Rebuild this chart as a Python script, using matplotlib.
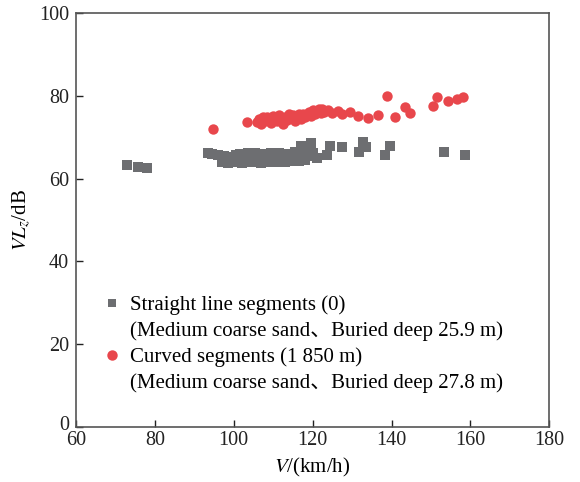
import matplotlib
matplotlib.use('Agg')
from matplotlib import pyplot as plt
from matplotlib.lines import Line2D
from matplotlib.transforms import ScaledTranslation

plt.rcParams['font.family'] = ['Liberation Serif', 'Noto Sans CJK SC']
plt.rcParams['mathtext.fontset'] = 'stix'

# straight line segments (grey squares)
straight_v = [72.9, 75.7, 78.0,
              93.5, 94.5, 96.0, 97.0, 97.5, 98.0, 98.5, 99.0, 99.5, 100.0,
              100.5, 101.0, 101.5, 102.0, 102.5, 103.0, 103.5, 104.0, 104.5,
              105.0, 105.5, 106.0, 106.5, 107.0, 107.5, 108.0, 108.5, 109.0,
              109.5, 110.0, 110.5, 111.0, 111.5, 112.0, 112.5, 113.0, 113.5,
              114.0, 114.5, 115.0, 115.5, 116.0, 116.5, 117.0, 117.5, 118.0,
              118.5, 119.0, 119.5, 120.0, 121.0, 123.7, 124.5, 127.4, 131.8,
              132.8, 133.6, 138.4, 139.7, 153.4, 158.7]
straight_vl = [63.2, 62.9, 62.5,
               66.2, 66.0, 65.8, 64.0, 65.5, 64.3, 63.8, 65.2, 64.6, 63.9,
               65.8, 64.2, 66.0, 63.7, 65.0, 64.5, 66.1, 63.9, 65.4,
               64.8, 66.3, 64.1, 65.6, 63.8, 66.0, 64.6, 65.2, 63.9,
               66.2, 64.4, 65.7, 64.0, 66.1, 64.7, 65.4, 63.9, 66.0,
               64.5, 65.8, 64.2, 66.4, 65.0, 64.3, 68.0, 65.9, 64.6,
               66.5, 65.4, 68.5, 66.2, 65.0, 65.8, 67.9, 67.7, 66.5,
               68.8, 67.7, 65.8, 67.9, 66.5, 65.8]

# curved segments (red circles)
curved_v = [94.8, 103.4, 106.0, 106.5, 107.0, 107.5, 108.0, 108.5, 109.0,
            109.5, 110.0, 110.5, 111.0, 111.5, 112.0, 112.5, 113.0, 113.5,
            114.0, 114.5, 115.0, 115.5, 116.0, 116.5, 117.0, 117.5, 118.0,
            118.5, 119.0, 119.5, 120.0, 120.5, 121.0, 121.5, 122.0, 122.5,
            123.0, 124.0, 125.0, 126.5, 127.5, 129.5, 131.6, 134.0, 136.6,
            138.9, 141.0, 143.5, 144.8, 150.6, 151.6, 154.4, 156.7, 158.2]
curved_vl = [72.1, 73.7, 73.6, 74.5, 73.2, 74.8, 73.9, 75.0, 74.2,
             73.5, 75.2, 74.4, 73.8, 75.4, 74.7, 73.3, 75.0, 74.2,
             75.5, 74.6, 75.3, 73.9, 75.0, 75.6, 74.5, 75.7, 74.9,
             75.6, 76.1, 75.2, 76.5, 75.6, 76.2, 76.8, 75.9, 76.7,
             76.2, 76.5, 75.8, 76.3, 75.7, 76.0, 75.1, 74.6, 75.3,
             80.0, 74.9, 77.2, 75.8, 77.5, 79.6, 78.8, 79.3, 79.8]

labels = ['Straight line segments (0)',
          '(Medium coarse sand\u3001Buried deep 25.9 m)',
          'Curved segments (1 850 m)',
          '(Medium coarse sand\u3001Buried deep 27.8 m)']

grey = '#6d6e71'
red = '#e8474c'

fig = plt.figure(figsize=(5.8, 4.82), dpi=100)
ax = fig.add_axes([0.131, 0.114, 0.816, 0.859])

ax.scatter(straight_v, straight_vl, marker='s', s=50, color=grey,
           linewidths=0, zorder=3)
ax.scatter(curved_v, curved_vl, marker='o', s=56, color=red,
           linewidths=0, zorder=3)

ax.set_xlim(60, 180)
ax.set_ylim(0, 100)
ax.set_xticks(range(60, 181, 20))
ax.set_yticks(range(0, 101, 20))
ax.tick_params(direction='in', length=5, width=1, labelsize=14.5,
               colors='#222222')
ax.tick_params(axis='x', pad=2.5)
ax.tick_params(axis='y', pad=5)
# nudge the "0" label up a little so it clears the "60"
lab0 = ax.get_yticklabels()[0]
lab0.set_transform(lab0.get_transform() +
                   ScaledTranslation(0, 4 / 100, fig.dpi_scale_trans))
for sp in ax.spines.values():
    sp.set_color('#555555')
    sp.set_linewidth(1.2)

ax.set_xlabel('$V$/(km/h)', fontsize=15, labelpad=5)
ax.set_ylabel('$VL_z$/dB', fontsize=15, labelpad=4)

blank = Line2D([], [], linestyle='none')
sq = Line2D([], [], linestyle='none', marker='s', markersize=6,
            color=grey, markeredgewidth=0)
ci = Line2D([], [], linestyle='none', marker='o', markersize=7.5,
            color=red, markeredgewidth=0)

ax.legend([sq, blank, ci, blank], labels, loc='upper left',
          bbox_to_anchor=(0.059, 0.318), frameon=False, fontsize=15,
          handlelength=0.8, handletextpad=0.45, labelspacing=0.3,
          borderaxespad=0, borderpad=0)

fig.savefig('out.png', dpi=100)
